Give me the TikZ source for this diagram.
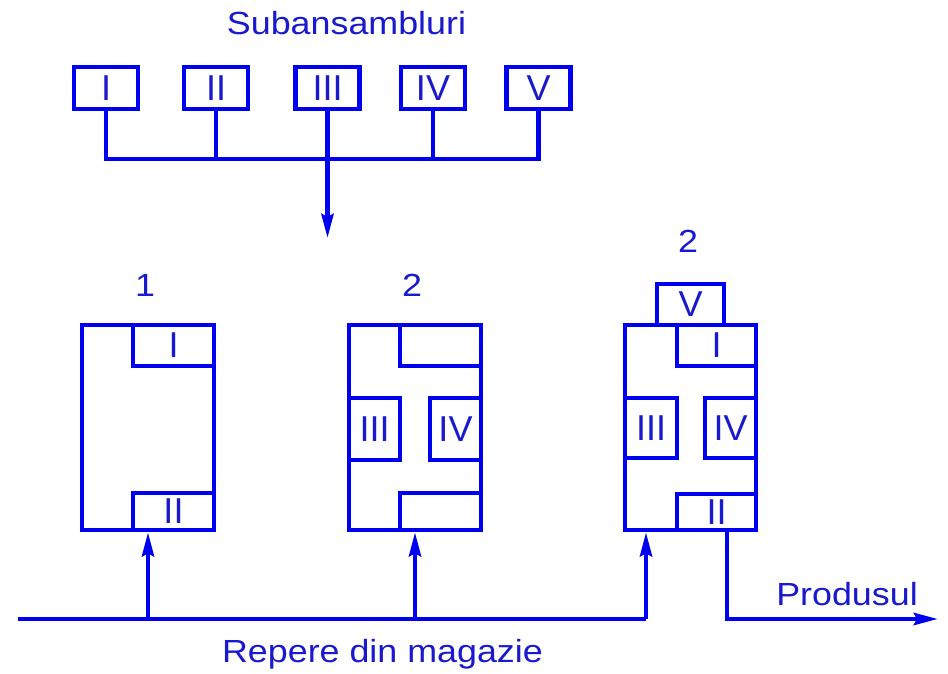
\documentclass[tikz,border=0pt]{standalone}
\usepackage{fontspec}
\setmainfont{Liberation Sans}
\newfontfamily\labfont[FakeStretch=1.12]{Liberation Sans}
\usetikzlibrary{arrows.meta}
\definecolor{ln}{RGB}{0,0,240}
\definecolor{tx}{RGB}{25,25,205}
\begin{document}
\begin{tikzpicture}[x=1pt,y=-1pt,
  box/.style={draw=ln, line width=4.5pt, inner sep=0pt, text=tx, rectangle,
    font=\fontsize{36}{40}\selectfont},
  lab/.style={text=tx, font=\fontsize{32}{36}\labfont, inner sep=0pt, anchor=base},
  conn/.style={draw=ln, line width=4.5pt},
  arr/.style={conn, -{Stealth[length=24pt,width=12pt,inset=3pt]}}]
\fill[white] (0,0) rectangle (948,673);
\useasboundingbox (0,0) rectangle (948,673);

% title
\node[lab] (title) at (346.5,34) {Subansambluri};

% subassemblies
\node[box, minimum width=64pt, minimum height=42pt] (sI)   at (106,88)   {I};
\node[box, minimum width=64pt, minimum height=42pt] (sII)  at (216,88)   {II};
\node[box, minimum width=64pt, minimum height=42pt] (sIII) at (327.5,88) {III};
\node[box, minimum width=64pt, minimum height=42pt] (sIV)  at (433,88)   {IV};
\node[box, minimum width=64pt, minimum height=42pt] (sV)   at (538.5,88) {V};

\coordinate (bus) at (0,159);
\coordinate (down) at (327.5,238);
\draw[conn] (sI.south) -- (sI.south |- bus) -- (sV.south |- bus) -- (sV.south);
\draw[conn] (sII.south) -- (sII.south |- bus);
\draw[conn] (sIV.south) -- (sIV.south |- bus);
\draw[arr] (sIII.south) -- (down);

% stage labels
\node[lab] (n1) at (145,296) {1};
\node[lab] (n2) at (412,296) {2};
\node[lab] (n3) at (688,252) {2};

% stage 1
\node[box, minimum width=132pt, minimum height=205pt] (b1) at (148,427.5) {};
\node[box, minimum width=81pt, minimum height=41pt] (b1I) at (173.5,345.5) {I};
\node[box, minimum width=81pt, minimum height=37pt] (b1II) at (173.5,511.5) {II};

% stage 2
\node[box, minimum width=132pt, minimum height=205pt] (b2) at (415,427.5) {};
\node[box, minimum width=81pt, minimum height=41pt] (b2a) at (440.5,345.5) {};
\node[box, minimum width=81pt, minimum height=37pt] (b2b) at (440.5,511.5) {};
\node[box, minimum width=51pt, minimum height=62pt] (b2III) at (374.5,429) {III};
\node[box, minimum width=51pt, minimum height=62pt] (b2IV) at (455.5,429) {IV};

% stage 3
\node[box, minimum width=131pt, minimum height=205pt] (b3) at (690.5,427.5) {};
\node[box, minimum width=67pt, minimum height=41pt] (b3V) at (690.5,304.5) {V};
\node[box, minimum width=79pt, minimum height=41pt] (b3I) at (716.5,345.5) {I};
\node[box, minimum width=52pt, minimum height=60pt] (b3III) at (651,428) {III};
\node[box, minimum width=51pt, minimum height=60pt] (b3IV) at (730.5,428) {IV};
\node[box, minimum width=79pt, minimum height=36pt] (b3II) at (716.5,512) {II};

% bottom feed line
\coordinate (src) at (18,619);
\coordinate (j3) at (646,619);
\coordinate (o1) at (727,0);
\coordinate (prod) at (938,619);
\draw[conn] (src) -- (j3);
\draw[arr] (b1.south |- src) -- (b1.south);
\draw[arr] (b2.south |- src) -- (b2.south);
\draw[arr] (j3) -- (j3 |- b3.south);
\draw[arr] (b3.south -| o1) -- (o1 |- prod) -- (prod);

\node[lab] (produs) at (847,605) {Produsul};
\node[lab] (repere) at (382.5,662) {Repere din magazie};
\end{tikzpicture}
\end{document}
